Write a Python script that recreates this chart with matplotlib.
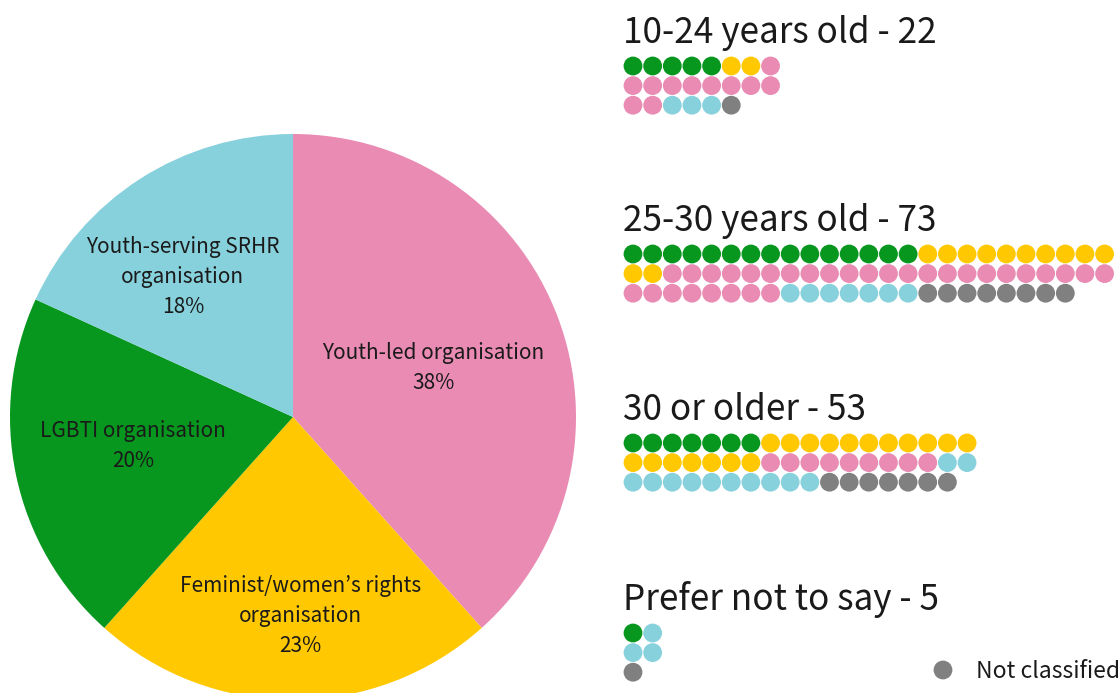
import numpy as np
import matplotlib
matplotlib.use('Agg')
import matplotlib.pyplot as plt
from matplotlib.patches import Circle

plt.rcParams['font.family'] = ['Noto Sans CJK KR', 'DejaVu Sans']

# pie data (share of organisations)
pie_labels = ['Youth-led organisation', 'Feminist/women\u2019s rights\norganisation',
              'LGBTI organisation', 'Youth-serving SRHR\norganisation']
pie_values = [38, 23, 20, 18]

# dot groups by age
group_titles = ['10-24 years old - 22', '25-30 years old - 73',
                '30 or older - 53', 'Prefer not to say - 5']
cat_names = ['LGBTI', 'Feminist', 'Youth-led', 'Youth-serving', 'Not classified']
counts_10_24 = [5, 2, 11, 3, 1]
counts_25_30 = [15, 12, 31, 7, 8]
counts_30_plus = [7, 18, 9, 12, 7]
counts_prefer = [1, 0, 0, 3, 1]

# colours
C_PINK = '#E98BB3'
C_YELLOW = '#FFC800'
C_GREEN = '#07961E'
C_BLUE = '#87D1DD'
C_GRAY = '#808080'
TXT = '#1a1a1a'
cat_colors = [C_GREEN, C_YELLOW, C_PINK, C_BLUE, C_GRAY]
pie_colors = [C_PINK, C_YELLOW, C_GREEN, C_BLUE]

W, H = 1120, 693
fig = plt.figure(figsize=(W / 100, H / 100), dpi=100)

# pie axes, placed in pixels
cx, cy, r = 293, 417, 283
pax = fig.add_axes([(cx - r) / W, (H - cy - r) / H, 2 * r / W, 2 * r / H])
wedges, _ = pax.pie(pie_values, colors=pie_colors, startangle=90,
                    counterclock=False, radius=1,
                    wedgeprops=dict(linewidth=0))
pax.set_xlim(-1, 1)
pax.set_ylim(-1, 1)
pax.axis('off')

# label centres in pie units
label_xy = [(0.496, 0.173), (0.025, -0.703), (-0.565, -0.102), (-0.389, 0.495)]
for lab, v, (lx, ly) in zip(pie_labels, pie_values, label_xy):
    pax.text(lx, ly, f'{lab}\n{v}%', ha='center', va='center',
             fontsize=15, color=TXT, linespacing=1.45)

# overlay axes in pixel coords for dots
ax = fig.add_axes([0, 0, 1, 1])
ax.set_xlim(0, W)
ax.set_ylim(H, 0)
ax.axis('off')

title_y = [30, 218, 407, 597]
x0, step, dot_r = 633, 19.65, 9.4
groups = [counts_10_24, counts_25_30, counts_30_plus, counts_prefer]
for title, ty, counts in zip(group_titles, title_y, groups):
    ax.text(623, ty + 3, title, fontsize=25.3, color=TXT, ha='left', va='center')
    n = sum(counts)
    ncols = int(np.ceil(n / 3))
    cols = []
    for c, k in zip(cat_colors, counts):
        cols += [c] * k
    for i, c in enumerate(cols):
        row, col = divmod(i, ncols)
        ax.add_patch(Circle((x0 + col * step, ty + 36 + row * 19.6), dot_r,
                            color=c, lw=0))

# legend
ax.add_patch(Circle((943, 670), dot_r, color=C_GRAY, lw=0))
ax.text(976, 672, 'Not classified', fontsize=16.5, color=TXT,
        ha='left', va='center')

fig.savefig('out.png', dpi=100, facecolor='white')
